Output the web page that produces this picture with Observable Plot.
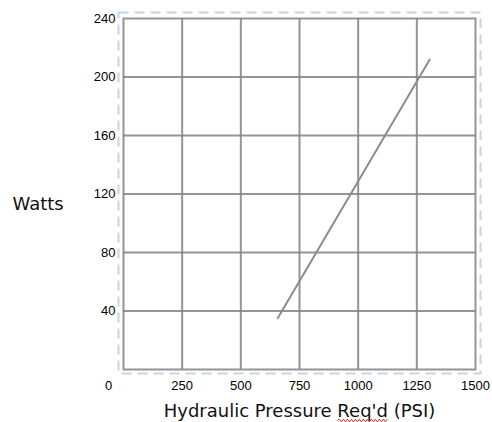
<!DOCTYPE html>
<html>
<head>
<meta charset="utf-8">
<script src="https://cdn.jsdelivr.net/npm/d3@7"></script>
<script src="https://cdn.jsdelivr.net/npm/@observablehq/plot@0.6"></script>
<style>
  html, body { margin: 0; padding: 0; background: #fff; }
  #chart svg { display: block; }
</style>
</head>
<body>
<div id="chart"></div>
<script>
// Data
const pressurePSI = [657, 1305];
const watts = [35, 212];
const xTicks = [250, 500, 750, 1000, 1250, 1500];
const yTicks = [40, 80, 120, 160, 200, 240];
const xGrid = [250, 500, 750, 1000, 1250];
const yGrid = [40, 80, 120, 160, 200];
const originLabel = ["0"];
const xTitle = "Hydraulic Pressure Req'd (PSI)";
const yTitle = "Watts";

const line = pressurePSI.map((p, i) => ({ p, w: watts[i] }));
const font = "'Liberation Sans', Arial, sans-serif";
const titleFont = "'DejaVu Sans', 'Liberation Sans', sans-serif";
const gridColor = "#838383";

const chart = Plot.plot({
  width: 492,
  height: 422,
  marginLeft: 123,
  marginRight: 17,
  marginTop: 18,
  marginBottom: 53,
  style: { fontFamily: font, background: "#fff" },
  x: { domain: [0, 1500] },
  y: { domain: [0, 240] },
  marks: [
    Plot.frame({ stroke: "#c6d4e7", strokeWidth: 2, strokeDasharray: "10,6", insetLeft: -5, insetRight: -5, insetTop: -6, insetBottom: -4 }),
    Plot.ruleX(xGrid, { stroke: gridColor, strokeWidth: 2, strokeOpacity: 0.85 }),
    Plot.ruleY(yGrid, { stroke: gridColor, strokeWidth: 2, strokeOpacity: 0.85 }),
    Plot.frame({ stroke: gridColor, strokeWidth: 2, strokeOpacity: 0.85 }),
    Plot.line(line, { x: "p", y: "w", stroke: "#8c8c8c", strokeWidth: 2 }),
    Plot.axisX(xTicks, { tickSize: 0, tickPadding: 11, fontSize: 13, fill: "#000", label: null, tickFormat: d3.format("d") }),
    Plot.axisY(yTicks, { tickSize: 0, tickPadding: 8, fontSize: 13, fill: "#000", label: null, tickFormat: d3.format("d") }),
    Plot.text(originLabel, { x: () => 0, y: () => 0, text: d => d, dx: -15, dy: 16, fontSize: 13, fill: "#000" }),
    Plot.text([xTitle], { frameAnchor: "bottom", text: d => d, dy: 47, fontSize: 18, fontFamily: titleFont, fill: "#111", lineAnchor: "bottom" }),
    Plot.text([yTitle], { frameAnchor: "left", text: d => d, dx: -111, dy: 10, fontSize: 18, fontFamily: titleFont, fill: "#111", textAnchor: "start" })
  ]
});

document.getElementById("chart").appendChild(chart);

// red spell-check squiggle under "Req'd"
d3.select(chart).selectAll("text").filter(function() { return this.textContent === xTitle; })
  .each(function() {
    const t = d3.select(this);
    const tn = t.select("tspan").empty() ? t : t.select("tspan");
    tn.text(null);
    tn.append("tspan").text("Hydraulic Pressure ");
    const w = tn.append("tspan").text("Req'd");
    tn.append("tspan").text(" (PSI)");
    const node = w.node();
    const n = node.getNumberOfChars();
    const start = node.getStartPositionOfChar(0);
    const end = node.getEndPositionOfChar(n - 1);
    const ctm = this.getCTM();
    const svg = chart.ownerSVGElement || chart;
    const pt = (x, y) => { const p = svg.createSVGPoint(); p.x = x; p.y = y; return p.matrixTransform(ctm); };
    const a = pt(start.x, start.y + 4), b = pt(end.x, end.y + 4);
    let dStr = `M${a.x},${a.y}`;
    const step = 2;
    let up = true;
    for (let x = a.x + step; x <= b.x + 0.01; x += step) { dStr += `L${x},${a.y + (up ? -1.3 : 1.3)}`; up = !up; }
    d3.select(svg).append("path").attr("d", dStr).attr("fill", "none").attr("stroke", "#e02020").attr("stroke-width", 1);
  });
</script>
</body>
</html>
